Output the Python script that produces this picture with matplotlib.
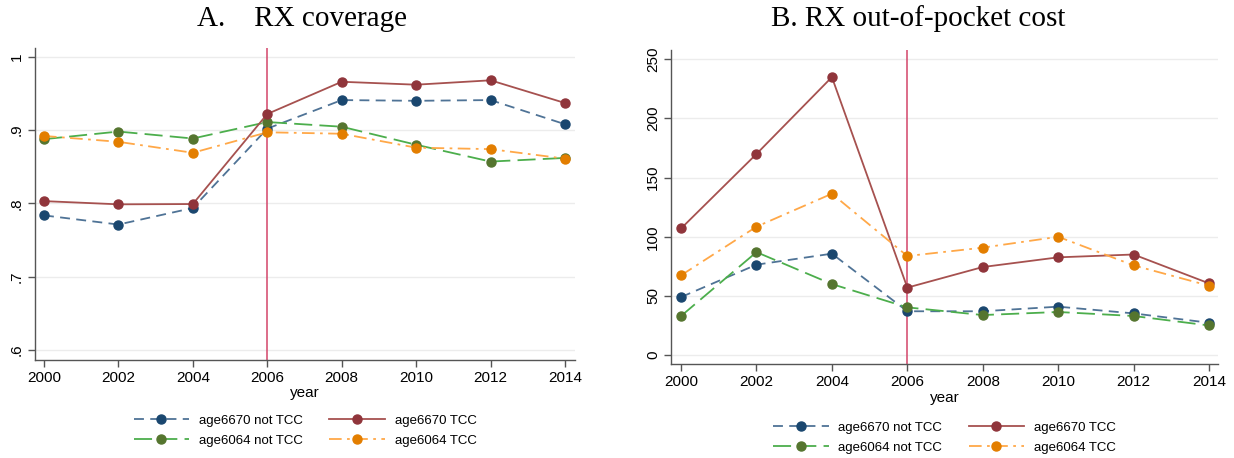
import matplotlib
matplotlib.use("Agg")
import matplotlib.pyplot as plt

years = [2000, 2002, 2004, 2006, 2008, 2010, 2012, 2014]

# Panel A: share with prescription drug coverage
cov_6670_not = [0.7835, 0.771, 0.7936, 0.902, 0.941, 0.940, 0.941, 0.908]
cov_6670_tcc = [0.803, 0.7986, 0.799, 0.922, 0.966, 0.962, 0.968, 0.937]
cov_6064_not = [0.8876, 0.898, 0.8885, 0.911, 0.9046, 0.880, 0.857, 0.862]
cov_6064_tcc = [0.892, 0.884, 0.869, 0.897, 0.895, 0.876, 0.874, 0.861]

# Panel B: out-of-pocket prescription spending
oop_6670_not = [49, 76.4, 85.7, 37, 37, 40.9, 35.2, 27.3]
oop_6670_tcc = [107, 170, 235, 57, 74.4, 82.6, 85, 60.6]
oop_6064_not = [33, 87, 60, 40.3, 33.8, 36.4, 33, 25]
oop_6064_tcc = [67.4, 108.5, 136.4, 83.7, 90.8, 100, 75.8, 58.6]

labels = ["age6670 not TCC", "age6064 not TCC", "age6670 TCC", "age6064 TCC"]
yticks_a = [0.6, 0.7, 0.8, 0.9, 1.0]
yticklabels_a = [".6", ".7", ".8", ".9", "1"]
yticks_b = [0, 50, 100, 150, 200, 250]
policy_year = 2006

# (line colour, marker colour, dash pattern)
styles = [
    ("#4f7396", "#1a476f", (0, (5.5, 3.5))),
    ("#4cae4c", "#55752f", (0, (10, 4))),
    ("#a6514f", "#90353b", "-"),
    ("#ffa848", "#e37e00", (0, (7, 3, 1.5, 3))),
]

plt.rcParams["font.family"] = ["Liberation Sans", "DejaVu Sans"]
plt.rcParams["font.size"] = 11

fig = plt.figure(figsize=(12.34, 4.58), dpi=100)
axA = fig.add_axes([0.0284, 0.214, 0.4376, 0.681])
axB = fig.add_axes([0.5438, 0.2052, 0.4433, 0.6856])


def draw(ax, series, yticks, yticklabels, ylim, xlim, leg_y):
    for ax_y in yticks:
        ax.axhline(ax_y, color="#ececec", lw=1.0, zorder=0)
    ax.axvline(policy_year, color="#d3456a", lw=1.1, zorder=1)
    for vals, lab, (lc, mc, ls) in zip(series, labels, styles):
        ax.plot(years, vals, color=lc, linestyle=ls, lw=1.3, marker="o",
                markersize=6.5, markerfacecolor=mc, markeredgecolor=mc,
                label=lab, zorder=3)
    ax.set_xlim(*xlim)
    ax.set_ylim(*ylim)
    ax.set_xticks(years)
    ax.set_yticks(yticks)
    ax.set_yticklabels(yticklabels, rotation=90, va="center")
    for side in ["top", "right"]:
        ax.spines[side].set_visible(False)
    for side in ["left", "bottom"]:
        ax.spines[side].set_color("#555555")
        ax.spines[side].set_linewidth(1.0)
    ax.tick_params(direction="out", length=5, width=1.0, color="#555555",
                   labelsize=11, pad=3)
    ax.set_xlabel("year", fontsize=11, labelpad=1)
    ax.legend(loc="upper center", bbox_to_anchor=(0.5, leg_y), ncol=2,
              frameon=False, fontsize=9.5, handlelength=4.2, columnspacing=2.0,
              handletextpad=0.75, labelspacing=0.6)


draw(axA, [cov_6670_not, cov_6064_not, cov_6670_tcc, cov_6064_tcc],
     yticks_a, yticklabels_a, (0.586, 1.012), (1999.76, 2014.27), -0.136)
draw(axB, [oop_6670_not, oop_6064_not, oop_6670_tcc, oop_6064_tcc],
     yticks_b, [str(v) for v in yticks_b], (-7.6, 257.9), (1999.735, 2014.24), -0.145)

fig.text(302 / 1234, 1 - 19 / 458, "A.    RX coverage", ha="center", va="center",
         family="Liberation Serif", fontsize=21)
fig.text(918 / 1234, 1 - 19 / 458, "B. RX out-of-pocket cost", ha="center",
         va="center", family="Liberation Serif", fontsize=21)

fig.savefig("out.png", dpi=100)
